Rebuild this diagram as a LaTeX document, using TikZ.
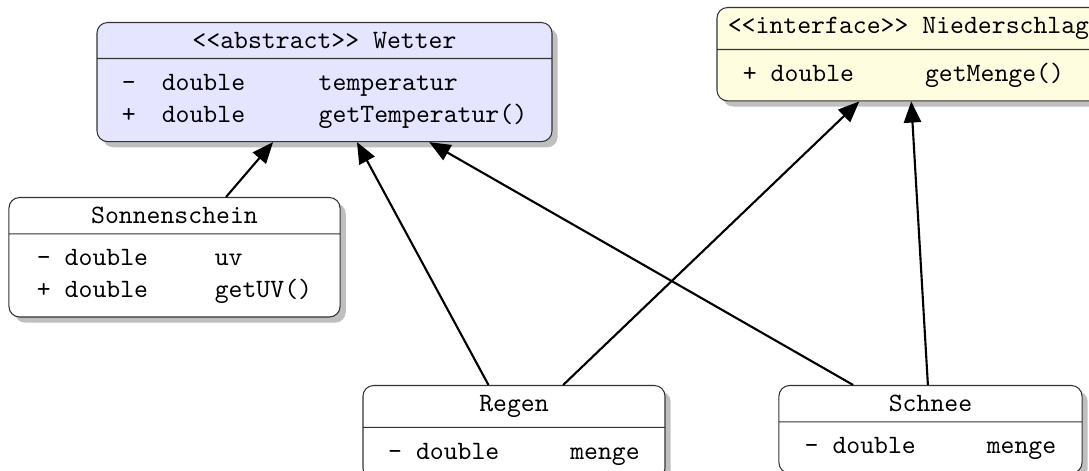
\documentclass[tikz,border=0pt]{standalone}
\usepackage{tikz}
\usetikzlibrary{shapes.multipart,shadows,arrows.meta,positioning}
\tikzset{
	klasse/.style={rectangle split, rectangle split parts=2, draw=black!80,
		rounded corners=4pt, fill=white, drop shadow, font=\ttfamily,
		inner xsep=0pt, inner ysep=3.5pt, anchor=north},
	erbt/.style={-{Triangle[length=8pt,width=6.5pt]}, thick}
}

\begin{document}
\begin{tikzpicture}[x=0.3778pt, y=-0.3778pt]
	\useasboundingbox (0,0) rectangle (1089,471);
	% Oberklassen
	\node[klasse, fill=blue!10, minimum width=171.9pt] (wetter) at (324.5,22)
		{<<abstract>> Wetter
		\nodepart{second}\begin{tabular}{@{}p{15.1pt}@{}p{59.3pt}@{}l@{}}
			- & double & temperatur\\
			+ & double & getTemperatur()
		\end{tabular}};
	\node[klasse, fill=yellow!12, minimum width=144.7pt] (nieder) at (908.5,7)
		{<<interface>> Niederschlag
		\nodepart{second}\begin{tabular}{@{}p{68.8pt}@{}p{56.3pt}@{}}
			+ double & getMenge()
		\end{tabular}};
	% Unterklassen
	\node[klasse, minimum width=125.1pt] (sonne) at (174.5,197)
		{Sonnenschein
		\nodepart{second}\begin{tabular}{@{}p{67.2pt}@{}l@{}}
			- double & uv\\
			+ double & getUV()
		\end{tabular}};
	\node[klasse, minimum width=114.1pt] (regen) at (514,385)
		{Regen
		\nodepart{second}\begin{tabular}{@{}p{68.8pt}@{}l@{}}
			- double & menge
		\end{tabular}};
	\node[klasse, minimum width=114.5pt] (schnee) at (930.5,385)
		{Schnee
		\nodepart{second}\begin{tabular}{@{}p{68.8pt}@{}l@{}}
			- double & menge
		\end{tabular}};
	% Vererbung
	\draw[erbt] (sonne) -- (wetter);
	\draw[erbt] (regen) -- (wetter);
	\draw[erbt] (schnee) -- (wetter);
	\draw[erbt] (regen) -- (nieder);
	\draw[erbt] (schnee) -- (nieder);
\end{tikzpicture}
\end{document}
